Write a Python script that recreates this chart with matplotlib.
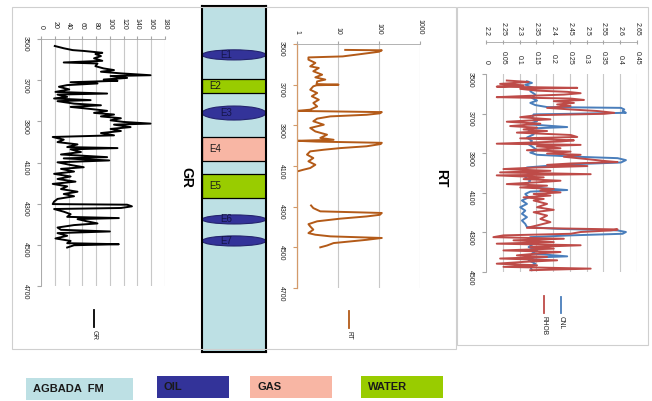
import numpy as np
import matplotlib
matplotlib.use("Agg")
import matplotlib.pyplot as plt
from matplotlib.patches import Rectangle, Ellipse
from matplotlib.lines import Line2D
from matplotlib.ticker import FuncFormatter, NullLocator

plt.rcParams['font.family'] = ['Liberation Sans', 'DejaVu Sans']

W, H = 652, 401

# -----------------------------
# Log data
# -----------------------------
gr_depth = [3534, 3545, 3554, 3558, 3567, 3573, 3583, 3594, 3606, 3614,
            3619, 3632, 3643, 3651, 3659, 3667, 3676, 3680, 3689, 3697,
            3703, 3710, 3716, 3724, 3732, 3745, 3757, 3765, 3770, 3781,
            3789, 3797, 3802, 3814, 3822, 3830, 3840, 3849, 3859, 3867,
            3876, 3885, 3895, 3903, 3911, 3916, 3928, 3937, 3947, 3957,
            3968, 3976, 3989, 4001, 4012, 4025, 4030, 4036, 4049, 4061,
            4074, 4080, 4090, 4099, 4112, 4123, 4131, 4144, 4155, 4168,
            4180, 4193, 4204, 4216, 4229, 4242, 4253, 4264, 4277, 4290,
            4302, 4305, 4313, 4321, 4326, 4339, 4351, 4364, 4370, 4375,
            4386, 4396, 4404, 4416, 4427, 4435, 4443, 4456, 4469, 4481,
            4492, 4497, 4502, 4513]
gr_value = [20, 33, 46, 62, 89, 79, 87, 77, 89, 33,
            82, 79, 91, 106, 87, 116, 159, 101, 125, 91,
            111, 43, 82, 38, 26, 41, 21, 96, 24, 38,
            19, 72, 24, 48, 87, 43, 72, 96, 77, 106,
            87, 116, 101, 120, 159, 106, 130, 101, 116, 87,
            106, 17, 33, 24, 53, 38, 111, 43, 58, 29,
            96, 33, 99, 24, 43, 62, 29, 48, 19, 43,
            24, 50, 17, 38, 29, 53, 33, 48, 24, 19,
            17, 125, 132, 116, 19, 33, 43, 38, 113, 53,
            67, 82, 48, 24, 29, 100, 24, 38, 21, 43,
            38, 113, 48, 38]

rt_depth = [3529, 3531, 3538, 3549, 3561, 3566, 3577, 3593, 3610, 3618,
            3634, 3651, 3664, 3675, 3684, 3697, 3700, 3703, 3708, 3725,
            3741, 3757, 3774, 3790, 3807, 3823, 3829, 3835, 3841, 3848,
            3856, 3867, 3880, 3897, 3913, 3930, 3946, 3962, 3971, 3976,
            3980, 3986, 3992, 4003, 4012, 4020, 4028, 4044, 4061, 4077,
            4094, 4110, 4118, 4126, 4200, 4294, 4307, 4323, 4331, 4340,
            4348, 4359, 4372, 4386, 4397, 4413, 4430, 4438, 4446, 4454,
            4463, 4479, 4491, 4500]
rt_value = [15, 117, 100, 38, 13, 1.9, 1.9, 2.8, 2.1, 3.4,
            2.5, 4.1, 2.8, 4.9, 3.1, 3.0, 10.3, 3.0, 2.5, 2.1,
            3.1, 2.3, 3.4, 2.5, 3.1, 2.1, 1.0, 117, 105, 50,
            6.5, 3.1, 2.5, 4.5, 2.1, 2.8, 5.4, 3.7, 7.8, 1.0,
            3.0, 117, 110, 50, 11.3, 4.5, 2.1, 1.75, 2.5, 1.9,
            2.8, 2.1, 1.45, 1.04, np.nan, 2.2, 2.5, 3.7, 117, 105,
            50, 11.3, 3.1, 1.9, 2.1, 2.5, 1.9, 2.8, 6.5, 117,
            50, 7.8, 5.4, 3.7]

cnl_depth = [3537, 3545, 3554, 3562, 3570, 3587, 3604, 3621, 3634, 3646,
             3657, 3667, 3671, 3679, 3687, 3696, 3701, 3704, 3721, 3738,
             3754, 3768, 3775, 3788, 3805, 3821, 3838, 3855, 3872, 3885,
             3897, 3908, 3918, 3925, 3935, 3947, 3955, 3964, 3972, 3989,
             4006, 4022, 4039, 4056, 4073, 4086, 4094, 4106, 4123, 4139,
             4156, 4173, 4190, 4206, 4223, 4240, 4257, 4273, 4282, 4290,
             4298, 4307, 4315, 4324, 4340, 4357, 4374, 4391, 4407, 4421,
             4427, 4441, 4458, 4474, 4491]
cnl_value = [0.122, 0.137, 0.117, 0.127, 0.142, 0.132, 0.147, 0.137, 0.152, 0.132,
             0.147, 0.182, 0.402, 0.412, 0.407, 0.417, 0.252, 0.142, 0.137, 0.152,
             0.127, 0.242, 0.132, 0.127, 0.142, 0.122, 0.137, 0.127, 0.142, 0.152,
             0.132, 0.152, 0.272, 0.392, 0.417, 0.402, 0.272, 0.182, 0.122, 0.112,
             0.132, 0.117, 0.132, 0.122, 0.137, 0.242, 0.132, 0.117, 0.127, 0.107,
             0.122, 0.102, 0.117, 0.107, 0.122, 0.107, 0.117, 0.122, 0.212, 0.392,
             0.417, 0.407, 0.252, 0.132, 0.122, 0.142, 0.127, 0.152, 0.137, 0.242,
             0.142, 0.127, 0.147, 0.132, 0.137]

rhob_depth = [3533, 3540, 3550, 3557, 3564, 3570, 3575, 3584, 3590, 3597,
              3604, 3612, 3617, 3624, 3631, 3637, 3646, 3654, 3662, 3671,
              3679, 3687, 3696, 3701, 3708, 3718, 3729, 3741, 3751, 3763,
              3771, 3780, 3788, 3796, 3808, 3818, 3825, 3835, 3841, 3852,
              3858, 3865, 3875, 3885, 3892, 3902, 3908, 3918, 3930, 3939,
              3945, 3952, 3959, 3965, 3972, 3980, 3989, 3997, 4006, 4012,
              4022, 4031, 4039, 4047, 4056, 4064, 4073, 4081, 4089, 4098,
              4106, 4114, 4123, 4131, 4139, 4156, 4173, 4186, 4198, 4215,
              4232, 4248, 4265, 4277, 4285, 4290, 4298, 4307, 4315, 4324,
              4332, 4340, 4349, 4357, 4365, 4374, 4382, 4391, 4399, 4407,
              4416, 4424, 4432, 4441, 4449, 4458, 4466, 4474, 4483, 4491]
rhob_value = [2.262, 2.327, 2.242, 2.312, 2.232, 2.472, 2.302, 2.352, 2.442, 2.482,
              2.432, 2.302, 2.232, 2.452, 2.492, 2.402, 2.462, 2.412, 2.452, 2.382,
              2.452, 2.532, 2.582, 2.552, 2.352, 2.302, 2.392, 2.262, 2.362, 2.272,
              2.352, 2.312, 2.382, 2.292, 2.452, 2.472, 2.302, 2.462, 2.422, 2.232,
              2.482, 2.352, 2.422, 2.322, 2.452, 2.382, 2.482, 2.432, 2.502, 2.552,
              2.592, 2.452, 2.382, 2.502, 2.352, 2.252, 2.392, 2.242, 2.512, 2.232,
              2.372, 2.312, 2.422, 2.352, 2.262, 2.382, 2.302, 2.402, 2.362, 2.422,
              2.342, 2.392, 2.312, 2.372, 2.342, 2.382, 2.352, 2.402, 2.342, 2.382,
              2.362, 2.392, 2.352, 2.322, 2.592, 2.572, 2.482, 2.452, 2.252, 2.222,
              2.432, 2.282, 2.402, 2.232, 2.482, 2.332, 2.402, 2.252, 2.422, 2.352,
              2.292, 2.382, 2.242, 2.412, 2.312, 2.232, 2.352, 2.252, 2.512, 2.332]

# zonation
zone_names = ['E1', 'E2', 'E3', 'E4', 'E5', 'E6', 'E7']
zone_fluid = ['OIL', 'WATER', 'OIL', 'GAS', 'WATER', 'OIL', 'OIL']
zone_top = [3553, 3694, 3826, 3976, 4156, 4355, 4457]
zone_base = [3602, 3762, 3894, 4093, 4273, 4399, 4506]

key_labels = ['AGBADA  FM', 'OIL', 'GAS', 'WATER']

# -----------------------------
# Style
# -----------------------------
COL = {'AGBADA  FM': '#BDE0E4', 'OIL': '#333399', 'GAS': '#F8B6A4', 'WATER': '#99CC00'}
GRID = '#C8C8C8'
AXC = '#A6A6A6'
FRAME = '#CFCFCF'
TICK_FS = 5


def px_axes(fig, x0, y0, x1, y1):
    return fig.add_axes([x0 / W, 1 - y1 / H, (x1 - x0) / W, (y1 - y0) / H])


def fx(x):
    return x / W


def fy(y):
    return 1 - y / H


def style_log_axes(ax, spine_col=AXC):
    for s in ['right', 'bottom']:
        ax.spines[s].set_visible(False)
    ax.spines['top'].set_color(AXC)
    ax.spines['left'].set_color(spine_col)
    ax.spines['top'].set_linewidth(0.6)
    ax.spines['left'].set_linewidth(0.6)
    ax.xaxis.tick_top()
    ax.tick_params(axis='x', which='both', labelsize=TICK_FS, labelrotation=-90,
                   length=2, color=AXC, pad=5, labelcolor='#222222')
    ax.tick_params(axis='y', labelsize=TICK_FS, labelrotation=-90, length=3,
                   color=spine_col, pad=6, labelcolor='#222222')
    ax.grid(axis='x', color=GRID, lw=0.8)
    ax.set_axisbelow(True)


def legend_line(fig, x, y0, y1, color, label):
    fig.add_artist(Line2D([fx(x), fx(x)], [fy(y0), fy(y1)], transform=fig.transFigure,
                          color=color, lw=1.3))
    fig.text(fx(x), fy(y1 + 3), label, rotation=-90, ha='center', va='top',
             fontsize=4.8, color='#222222')


fig = plt.figure(figsize=(W / 100, H / 100), dpi=100)
fig.patch.set_facecolor('white')

# outer frames
fig.add_artist(Rectangle((fx(12), fy(349)), fx(456) - fx(12), fy(7) - fy(349),
                         transform=fig.transFigure, fill=False, ec=FRAME, lw=0.8))
fig.add_artist(Rectangle((fx(457), fy(345)), fx(648) - fx(457), fy(7) - fy(345),
                         transform=fig.transFigure, fill=False, ec=FRAME, lw=0.8))

# -----------------------------
# GR track
# -----------------------------
ax_gr = px_axes(fig, 41, 39, 165, 286)
ax_gr.plot(gr_value, gr_depth, color='black', lw=1.4)
ax_gr.set_xlim(0, 180)
ax_gr.set_ylim(4700, 3500)
ax_gr.set_xticks(np.arange(0, 181, 20))
ax_gr.set_yticks(np.arange(3500, 4701, 200))
style_log_axes(ax_gr)
fig.text(fx(186), fy(177), 'GR', rotation=-90, ha='center', va='center',
         fontsize=10, fontweight='bold')
legend_line(fig, 94, 310, 327, 'black', 'GR')

# -----------------------------
# Zonation column
# -----------------------------
ax_z = px_axes(fig, 202, 6, 266, 352)
ax_z.set_xlim(0, 1)
ax_z.set_ylim(5021, 3340)
ax_z.set_facecolor(COL['AGBADA  FM'])
ax_z.set_xticks([])
ax_z.set_yticks([])
for s in ax_z.spines.values():
    s.set_color('black')
    s.set_linewidth(1.5)

for name, fluid, top, base in zip(zone_names, zone_fluid, zone_top, zone_base):
    mid = (top + base) / 2
    if fluid == 'OIL':
        patch = Ellipse((0.5, mid), 1.0, base - top, facecolor=COL[fluid],
                        edgecolor='#24246E', lw=0.8)
        ax_z.add_patch(patch)
        t = ax_z.text(0.28, mid, name, fontsize=7, va='center', ha='left',
                      color='#15154A')
        t.set_clip_path(patch)
    else:
        patch = Rectangle((0, top), 1, base - top, facecolor=COL[fluid],
                          edgecolor='black', lw=0.9)
        ax_z.add_patch(patch)
        ax_z.text(0.12, mid, name, fontsize=7, va='center', ha='left',
                  color='#1A1A1A')

# -----------------------------
# RT track
# -----------------------------
ax_rt = px_axes(fig, 297, 44, 420, 288)
ax_rt.set_xscale('log')
ax_rt.plot(rt_value, rt_depth, color='#B35A18', lw=1.4)
ax_rt.set_xlim(1, 1000)
ax_rt.set_ylim(4700, 3500)
ax_rt.set_xticks([1, 10, 100, 1000])
ax_rt.xaxis.set_major_formatter(FuncFormatter(lambda v, p: f'{v:g}'))
ax_rt.xaxis.set_minor_locator(NullLocator())
ax_rt.set_yticks(np.arange(3500, 4701, 200))
style_log_axes(ax_rt, spine_col='#D39A6A')
ax_rt.spines['left'].set_linewidth(0.9)
fig.text(fx(441), fy(178), 'RT', rotation=-90, ha='center', va='center',
         fontsize=10, fontweight='bold')
legend_line(fig, 349, 311, 328, '#B35A18', 'RT')

# -----------------------------
# CNL / RHOB track
# -----------------------------
ax_n = px_axes(fig, 486, 74, 637, 272)
ax_d = ax_n.twiny()

ax_n.plot(cnl_value, cnl_depth, color='#4A7EBB', lw=1.4)
ax_n.set_xlim(0, 0.45)
ax_n.set_ylim(4500, 3500)
ax_n.set_xticks(np.arange(0, 0.451, 0.05))
ax_n.xaxis.set_major_formatter(FuncFormatter(lambda v, p: f'{round(v, 2):g}'))
ax_n.set_yticks(np.arange(3500, 4501, 200))
style_log_axes(ax_n)
ax_n.spines['top'].set_visible(False)
ax_n.tick_params(axis='x', length=0, pad=7)

ax_d.plot(rhob_value, rhob_depth, color='#BE4B48', lw=1.4)
ax_d.set_xlim(2.2, 2.65)
ax_d.set_xticks(np.arange(2.2, 2.651, 0.05))
ax_d.xaxis.set_major_formatter(FuncFormatter(lambda v, p: f'{round(v, 2):g}'))
ax_d.xaxis.tick_top()
for s in ['left', 'right', 'bottom']:
    ax_d.spines[s].set_visible(False)
ax_d.spines['top'].set_position(('outward', 23))
ax_d.spines['top'].set_color(AXC)
ax_d.spines['top'].set_linewidth(0.6)
ax_d.tick_params(axis='x', labelsize=TICK_FS, labelrotation=-90, length=3,
                 direction='inout', color=AXC, pad=3, labelcolor='#222222')
ax_d.set_ylim(4500, 3500)

legend_line(fig, 561, 297, 313, '#4A7EBB', 'CNL')
legend_line(fig, 544, 296, 313, '#BE4B48', 'RHOB')

# -----------------------------
# Colour key
# -----------------------------
key_boxes = [(26, 378, 133, 400), (157, 376, 229, 398), (250, 376, 332, 398), (361, 376, 443, 398)]
for lab, (x0, y0, x1, y1) in zip(key_labels, key_boxes):
    fig.add_artist(Rectangle((fx(x0), fy(y1)), fx(x1) - fx(x0), fy(y0) - fy(y1),
                             transform=fig.transFigure, facecolor=COL[lab], ec='none'))
    fig.text(fx(x0 + 7), fy((y0 + y1) / 2), lab, ha='left', va='center',
             fontsize=8, fontweight='bold', color='#1A1A1A')

fig.savefig('out.png', dpi=100)
